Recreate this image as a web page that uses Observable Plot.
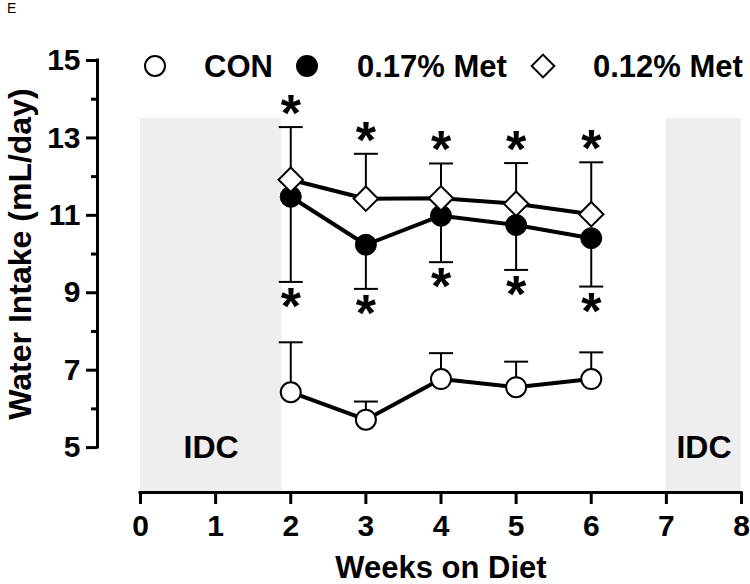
<!DOCTYPE html>
<html><head><meta charset="utf-8">
<script src="https://cdn.jsdelivr.net/npm/d3@7"></script>
<script src="https://cdn.jsdelivr.net/npm/@observablehq/plot@0.6"></script>
<style>
body{margin:0;background:#fff;}
#wrap{position:relative;width:750px;height:584px;font-family:"Liberation Sans",Arial,sans-serif;color:#000;}
#wrap svg{position:absolute;left:0;top:0;overflow:visible;}
.o{position:absolute;line-height:1;white-space:nowrap;}
.lt{font-weight:bold;font-size:31px;}
.sym{position:absolute;box-sizing:border-box;}
</style></head><body><div id="wrap"></div>
<script>
// ---- data ----
const weeks = [2, 3, 4, 5, 6];
const conMean = [6.43, 5.72, 6.77, 6.56, 6.77];
const conUpper = [7.72, 6.19, 7.44, 7.22, 7.46];
const met17Mean = [11.48, 10.24, 10.99, 10.75, 10.41];
const met17Lower = [9.28, 9.10, 9.79, 9.59, 9.16];
const met12Mean = [11.92, 11.43, 11.44, 11.30, 11.03];
const met12Upper = [13.28, 12.59, 12.34, 12.35, 12.37];
const seriesNames = ["CON", "0.17% Met", "0.12% Met"];
const idcStart = [0, 7];
const idcEnd = [1.88, 8];
const idcLabel = ["IDC", "IDC"];
const idcTop = 13.5;
const idcLabelY = 5;
const xTicks = [0, 1, 2, 3, 4, 5, 6, 7, 8];
const yMajor = [5, 7, 9, 11, 13, 15];
const yMinor = [6, 8, 10, 12, 14];
const yDomain = [3.84, 15];
const xTitle = "Weeks on Diet";
const yTitle = "Water Intake (mL/day)";
const panelLetter = "E";

const FONT = '"Liberation Sans", Arial, sans-serif';
const con = weeks.map((x, i) => ({x, y: conMean[i], e: conUpper[i]}));
const m17 = weeks.map((x, i) => ({x, y: met17Mean[i], e: met17Lower[i]}));
const m12 = weeks.map((x, i) => ({x, y: met12Mean[i], e: met12Upper[i]}));
const idc = idcStart.map((s, i) => ({start: s, end: idcEnd[i], label: idcLabel[i]}));
const capSymbol = {draw(ctx, size) { const w = Math.sqrt(size / Math.PI); ctx.moveTo(-w, 0); ctx.lineTo(w, 0); }};
const yMid = (yMajor[0] + yMajor[yMajor.length - 1]) / 2;
const AX = -43; // y-axis offset (px) from x = 0

const bars = (data) => [
  Plot.ruleX(data, {x: "x", y1: "y", y2: "e", stroke: "black", strokeWidth: 2}),
  Plot.dot(data, {x: "x", y: "e", symbol: capSymbol, r: 12, stroke: "black", strokeWidth: 2, fill: "none"})
];

const plot = Plot.plot({
  width: 750, height: 584,
  marginLeft: 140, marginRight: 9, marginTop: 60, marginBottom: 92,
  style: {fontFamily: FONT, background: "transparent", color: "black"},
  x: {domain: [0, 8], axis: null},
  y: {domain: yDomain, axis: null},
  marks: [
    Plot.rect(idc, {x1: "start", x2: "end", y1: yDomain[0], y2: idcTop, fill: "#eeeeee"}),
    Plot.text(idc, {x: d => (d.start + d.end) / 2, y: idcLabelY, text: "label", fontSize: 32, fontWeight: "bold", fill: "black", fontFamily: '"Liberation Sans Narrow", "Liberation Sans", Arial, sans-serif'}),
    // axes
    Plot.ruleY([yDomain[0]], {x1: xTicks[0], x2: xTicks[xTicks.length - 1], stroke: "black", strokeWidth: 3, strokeLinecap: "square"}),
    Plot.axisX({ticks: xTicks, tickSize: 12, tickPadding: 10, strokeWidth: 3, fontSize: 30, fontWeight: "bold", label: null, tickFormat: d => String(d)}),
    Plot.ruleX([xTicks[0]], {y1: yMajor[0], y2: yMajor[yMajor.length - 1], dx: AX, stroke: "black", strokeWidth: 3, strokeLinecap: "square"}),
    Plot.axisY({ticks: yMajor, tickSize: 11, tickPadding: 6, dx: AX, strokeWidth: 3, fontSize: 30, fontWeight: "bold", label: null, tickFormat: d => String(d)}),
    Plot.axisY({ticks: yMinor, tickSize: 6, dx: AX, strokeWidth: 3, label: null, tickFormat: () => ""}),
    Plot.text([xTitle], {frameAnchor: "bottom", dy: 76, lineAnchor: "middle", fontSize: 31, fontWeight: "bold", fill: "black"}),
    Plot.text([yTitle], {frameAnchor: "left", y: () => yMid, dx: -120, rotate: -90, textAnchor: "middle", lineAnchor: "middle", fontSize: 32, fontWeight: "bold", fill: "black"}),
    // error bars
    ...bars(con), ...bars(m17), ...bars(m12),
    // lines
    Plot.line(con, {x: "x", y: "y", stroke: "black", strokeWidth: 4}),
    Plot.line(m17, {x: "x", y: "y", stroke: "black", strokeWidth: 4}),
    Plot.line(m12, {x: "x", y: "y", stroke: "black", strokeWidth: 4}),
    // markers
    Plot.dot(con, {x: "x", y: "y", r: 10, fill: "white", stroke: "black", strokeWidth: 2}),
    Plot.dot(m17, {x: "x", y: "y", r: 10.5, fill: "black", stroke: "black", strokeWidth: 1}),
    Plot.dot(m12, {x: "x", y: "y", r: 11, symbol: "diamond2", fill: "white", stroke: "black", strokeWidth: 2}),
    // significance stars
    Plot.text(m12, {x: "x", y: "e", text: () => "*", fontSize: 52, fontWeight: "bold", lineAnchor: "bottom", dy: 4, fill: "black"}),
    Plot.text(m17, {x: "x", y: "e", text: () => "*", fontSize: 52, fontWeight: "bold", lineAnchor: "bottom", dy: 42, fill: "black"})
  ]
});

const wrap = document.getElementById("wrap");
wrap.appendChild(plot);

function addDiv(cls, style, text) {
  const d = document.createElement("div");
  d.className = cls;
  Object.assign(d.style, style);
  if (text != null) d.textContent = text;
  wrap.appendChild(d);
  return d;
}
addDiv("o", {left: "7px", top: "1px", fontSize: "14px"}, panelLetter);
// legend
addDiv("sym", {left: "144px", top: "55px", width: "22px", height: "22px", border: "2px solid black", borderRadius: "50%", background: "white"});
addDiv("o lt", {left: "204px", top: "51px"}, seriesNames[0]);
addDiv("sym", {left: "296px", top: "55px", width: "22px", height: "22px", borderRadius: "50%", background: "black"});
addDiv("o lt", {left: "357px", top: "51px"}, seriesNames[1]);
addDiv("sym", {left: "534px", top: "57px", width: "18px", height: "18px", border: "2px solid black", background: "white", transform: "rotate(45deg)"});
addDiv("o lt", {left: "593px", top: "51px"}, seriesNames[2]);
</script>
</body></html>
